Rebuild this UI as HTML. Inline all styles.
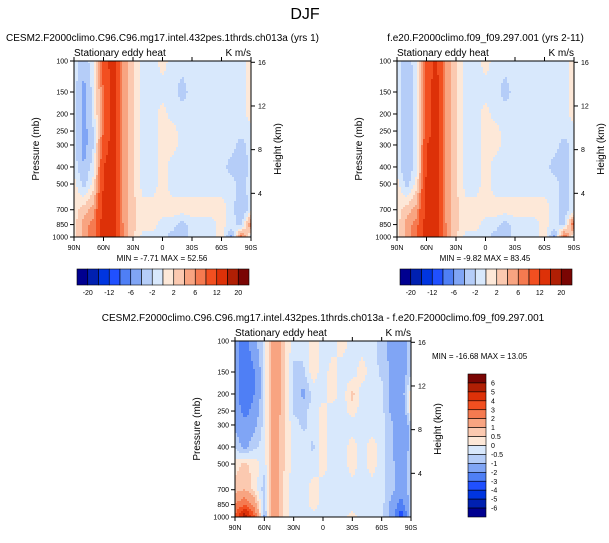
<!DOCTYPE html>
<html><head><meta charset="utf-8"><style>
body{margin:0;background:#fff;}
svg text{font-family:"Liberation Sans",sans-serif;fill:#000;}
</style></head><body>
<svg id="fig" width="609" height="538" xmlns="http://www.w3.org/2000/svg">
<text x="305" y="19" font-size="16" text-anchor="middle">DJF</text>
</svg>
<script>
const lats=[90,80,70,60,50,40,30,20,10,0,-10,-20,-30,-40,-50,-60,-70,-80,-90];
const levels=[100,150,200,250,300,400,500,700,850,1000];
const latTicks=["90N","60N","30N","0","30S","60S","90S"];
const presTicks=[100,150,200,250,300,400,500,700,850,1000];
const htTicks=[16,12,8,4];
const palette=["#000090","#0020b0","#0035e0","#2050ff","#4f7ff5","#80a5f5","#b5cdf8","#d8e8fc","#fde8d8","#fbc9b0","#f8a481","#f57a50","#f24f20","#dd3108","#b01f04","#7a0503"];
const bounds1=[-20,-16,-12,-8,-6,-4,-2,0,2,4,6,8,12,16,20];
const bounds3=[-6,-5,-4,-3,-2,-1,-0.5,0,0.5,1,2,3,4,5,6];
const cbLabels1=[-20,-12,-6,-2,2,6,12,20];
const cbLabels3=[6,5,4,3,2,1,0.5,0,-0.5,-1,-2,-3,-4,-5,-6];
const data1=[
[-1,-3,-1,10,14,5,2.5,-1,-1,1,-1,-1,-1,-1,-1,-1,-1,-1,1],
[-1,-5,-1,8,14,5,2.5,-1,-1,-1,-1,-3,-1,-1,-1,-1,-1,-1,1],
[-1,-5,-1,8,14,5,2.5,-1,-1,1,-1,-1,-1,-2,-1,-1,-1,-1,1],
[-1,-5,-2,8,14,5,2.5,-1,-1,1,1,-1,-1,-1,-1,-1,-1,-1,-1],
[-1,-5,-2,10,14,5,2.5,-1,-1,1,1,-1,-1,-1,-1,-1,-1,-3,-1],
[-1,-4,-1,12,14,5,2.5,-1,-1,1,-1,-1,-1,-1,-1,-1,-3,-4,-1],
[1,-3,1,12,14,5,2.5,-1,-1,1,-1,-1,-1,-1,-1,-1,-1,-3,-1],
[1,3,5,14,14,5,2.5,1,1,1,1,1,1,1,1,1,-1,-4,-1],
[1,5,7,14,14,6,2.5,1,1,-1,-1,-3,-1,-1,-1,1,-1,-3,7],
[1,5,7,14,14,6,2.5,-1,-1,-1,-3,-4,-1,-1,-1,1,-5,8,-1]];
const data2=[
[-1,-3,-1,10,13,5,2.5,-1,-1,1,-1,-1,-1,-1,-1,-1,-1,-1,1],
[-1,-4,-1,10,14,5,2.5,-1,-1,-1,-1,-3,-1,-1,-1,-1,-1,-1,1],
[-1,-4,-1,10,14,5,2.5,-1,-1,1,-1,-1,-1,-1,-1,-1,-1,-1,1],
[-1,-4,-1,10,14,5,2.5,-1,-1,1,1,-1,-1,-1,-1,-1,-1,-1,-1],
[-1,-4,-1,12,14,5,2.5,-1,-1,1,1,-1,-1,-1,-1,-1,-1,-3,-1],
[-1,-4,-1,12,14,5,2.5,-1,-1,1,-1,-1,-1,-1,-1,-1,-3,-3,-1],
[1,-3,1,13,14,5,2.5,-1,-1,1,-1,-1,-1,-1,-1,-1,-1,-3,-1],
[1,3,5,14,14,5,2.5,1,1,1,1,1,1,1,1,1,-1,-3,-1],
[1,5,7,14,14,6,2.5,1,1,-1,-1,-3,-1,-1,-1,1,-1,-3,9],
[1,5,8,14,14,6,2.5,-1,-1,-1,-3,-4,-1,-1,-1,1,-5,9,-1]];
const data3=[
[-1.5,-2.5,-1.2,-0.3,1.8,0.7,-0.3,-0.3,0.3,-0.3,-0.3,0.3,-0.3,-0.3,-0.3,-0.7,-1.2,-1.5,-0.6],
[-1.5,-3,-2,-0.3,1.8,0.7,-0.6,-0.6,0.3,-0.3,0.3,-0.3,-0.3,0.3,-0.3,-0.6,-1.2,-1.5,-0.6],
[-1.5,-3,-2,-0.3,1.8,0.7,-0.6,-1.2,-0.3,-0.3,0.3,-0.3,0.7,-0.3,-0.3,-0.3,-1.2,-1.5,0.3],
[-1.2,-2.5,-1.5,-0.3,1.5,0.7,-0.6,-0.6,-0.3,0.3,-0.3,-0.3,0.3,-0.3,-0.3,-0.3,-1.2,-2,0.3],
[-1.2,-1.5,-1.2,-0.3,1.5,0.6,-0.3,-0.6,-0.3,0.3,-0.3,-0.3,-0.3,-0.3,-0.3,-0.3,-0.8,-2,-0.6],
[-0.6,-1.2,-0.6,-0.3,1.5,0.6,-0.3,-0.3,-0.6,0.3,-0.3,-0.3,0.3,-0.3,0.3,-0.3,-0.8,-2,-0.6],
[0.3,0.6,0.3,-0.3,1.5,0.6,-0.3,-0.3,-0.3,0.3,-0.3,-0.3,0.3,-0.3,0.3,-0.3,-0.8,-1.5,-0.6],
[0.7,1,0.3,-0.8,1.5,0.3,-0.3,-0.3,0.3,-0.3,-0.3,-0.3,-0.3,-0.3,-0.3,-0.3,-0.8,-1.5,-0.6],
[2,3,1.5,-0.8,2,0.3,-0.3,-0.3,0.3,-0.3,-0.3,-0.3,-0.3,-0.3,-0.3,-0.3,-1.2,-2.5,-0.6],
[3,6,3,-1.2,2,0.3,-0.3,-0.3,-0.3,-0.3,-0.3,-0.3,0.3,-0.3,-0.3,-0.3,-1.2,-4,-0.6]];

const NS="http://www.w3.org/2000/svg";
const svg=document.getElementById('fig');
function mk(tag,attrs,parent){const e=document.createElementNS(NS,tag);for(const k in attrs)e.setAttribute(k,attrs[k]);(parent||svg).appendChild(e);return e;}
function txt(x,y,s,size,anchor,parent){const t=mk('text',{x:x,y:y,'font-size':size,'text-anchor':anchor||'start'},parent);t.textContent=s;return t;}
function colorIdx(v,b){let i=0;while(i<b.length&&v>=b[i])i++;return i;}
function sample(data,lat,p){
  let c=0;while(c<lats.length-2&&lat<lats[c+1])c++;
  const fc=Math.min(1,Math.max(0,(lats[c]-lat)/(lats[c]-lats[c+1])));
  let r=0;while(r<levels.length-2&&p>levels[r+1])r++;
  const fr=Math.min(1,Math.max(0,Math.log(p/levels[r])/Math.log(levels[r+1]/levels[r])));
  const a=data[r][c]*(1-fc)+data[r][c+1]*fc;
  const b=data[r+1][c]*(1-fc)+data[r+1][c+1]*fc;
  return a*(1-fr)+b*fr;
}

function panel(px,py,W,H,data,bounds,title,name){
  const g=mk('g',{'shape-rendering':'crispEdges'});
  
  
  const step=2;
  for(let y=0;y<H;y+=step){
    const p=100*Math.pow(10,(y+step/2)/H);
    for(let x=0;x<W;x+=step){
      const lat=90-(x+step/2)/W*180;
      const v=sample(data,lat,p);
      const cell=mk('rect',{x:px+x,y:py+y,width:Math.min(step,W-x),height:Math.min(step,H-y),fill:palette[colorIdx(v,bounds)]},g);
      
      
    }
  }
  const yS=p=>py+Math.log10(p/100)*H;
  const a=mk('g',{},svg);
  const frame=mk('rect',{x:px,y:py,width:W,height:H,fill:'none',stroke:'#000','stroke-width':1},a);
  
  
  latTicks.forEach((l,i)=>{const x=px+i*W/6;
    mk('line',{x1:x,x2:x,y1:py+H,y2:py+H+4,stroke:'#000'},a);
    mk('line',{x1:x,x2:x,y1:py,y2:py-4,stroke:'#000'},a);
    const t=txt(x,py+H+13,l,7,'middle',a);});
  presTicks.forEach(p=>{const y=yS(p);
    mk('line',{x1:px,x2:px-4,y1:y,y2:y,stroke:'#000'},a);
    const t=txt(px-6,y+2.5,String(p),7,'end',a);});
  htTicks.forEach(h=>{const p=1000*Math.exp(-h/7);const y=yS(p);
    mk('line',{x1:px+W,x2:px+W+4,y1:y,y2:y,stroke:'#000'},a);
    const t=txt(px+W+7,y+2.5,String(h),7,'start',a);});
  const yt=txt(0,0,'Pressure (mb)',10,'middle',a);yt.setAttribute('transform',`translate(${px-35},${py+H/2}) rotate(-90)`);
  
  const ht=txt(0,0,'Height (km)',10,'middle',a);ht.setAttribute('transform',`translate(${px+W+30},${py+H/2}) rotate(-90)`);
  
  const st=txt(px,py-5,'Stationary eddy heat',10,'start',a);
  const un=txt(px+W,py-5,'K m/s',10,'end',a);
  const tt=txt(px+W/2,py-20,title,10,'middle',a);
}
function hbar(x0,y0,w,h,labels,name){
  const g=mk('g',{});
  
  
  const bw=w/16;
  palette.forEach((c,i)=>{const r=mk('rect',{x:x0+i*bw,y:y0,width:bw,height:h,fill:c,stroke:'#000','stroke-width':0.6},g);
    });
  labels.forEach((l,i)=>{const t=txt(x0+(2*i+1)*bw,y0+h+10,String(l),7,'middle',g);
    });
}
panel(74,61,177,176,data1,bounds1,'CESM2.F2000climo.C96.C96.mg17.intel.432pes.1thrds.ch013a (yrs 1)','panel-cesm2');
panel(397,61,177,176,data2,bounds1,'f.e20.F2000climo.f09_f09.297.001 (yrs 2-11)','panel-f09');
panel(235,341,176,176,data3,bounds3,'CESM2.F2000climo.C96.C96.mg17.intel.432pes.1thrds.ch013a - f.e20.F2000climo.f09_f09.297.001','panel-difference');
let m=txt(162,261,'MIN =  -7.71   MAX =  52.56',8,'middle');
m=txt(485,261,'MIN =  -9.82   MAX =  83.45',8,'middle');
m=txt(432,359,'MIN = -16.68   MAX =  13.05',8,'start');
hbar(77,269,172,16,cbLabels1,'colorbar-1');
hbar(400,269,172,16,cbLabels1,'colorbar-2');
(function(){const g=mk('g',{});
  
  
  const x0=468,y0=374,w=18,h=143,bh=h/16;
  for(let i=0;i<16;i++){const r=mk('rect',{x:x0,y:y0+i*bh,width:w,height:bh,fill:palette[15-i],stroke:'#000','stroke-width':0.6},g);
    }
  cbLabels3.forEach((l,i)=>{const t=txt(x0+w+5,y0+(i+1)*bh+2.5,String(l),7,'start',g);
    });
})();
</script>
</body></html>
